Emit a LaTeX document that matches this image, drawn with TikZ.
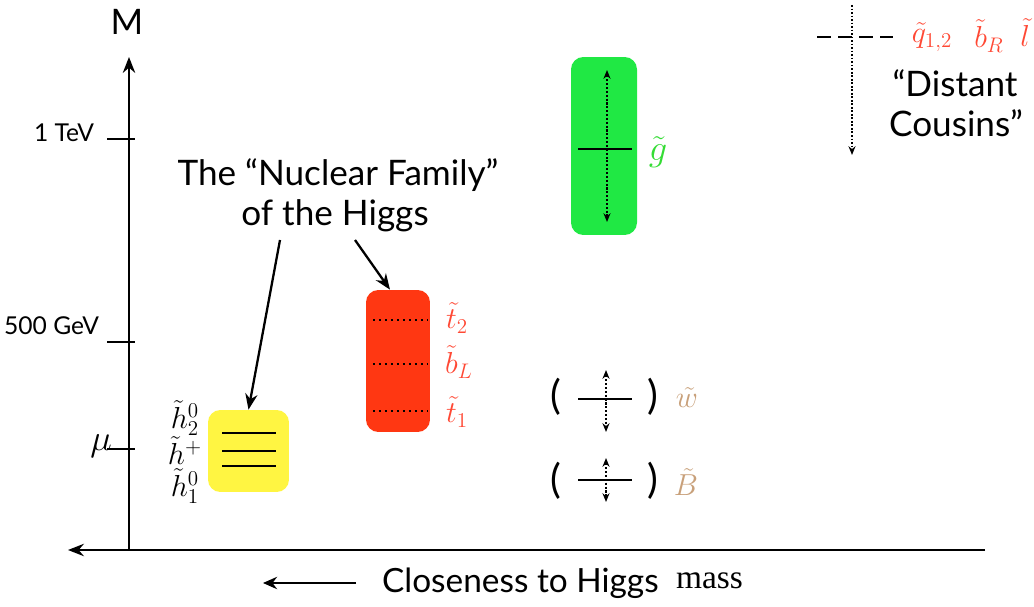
\documentclass[tikz,border=0pt]{standalone}
\usepackage{fontspec}
\setmainfont{Lato}
\newfontfamily\massfont{Liberation Serif}
\usetikzlibrary{arrows.meta}
\definecolor{glgreen}{RGB}{32,232,68}
\definecolor{sqred}{RGB}{255,55,18}
\definecolor{hgyel}{RGB}{255,245,66}
\definecolor{lblred}{RGB}{255,72,52}
\definecolor{lbltan}{RGB}{200,160,122}
\definecolor{lblgrn}{RGB}{52,220,52}
\tikzset{every node/.style={inner sep=1pt},
  famb/.style={rounded corners=7pt,inner sep=0pt},
  lvl/.style={line width=1.4pt},
  dlvl/.style={dotted,line width=1.4pt},
  spread/.style={densely dotted,line width=1.2pt,{Stealth[length=5pt,width=4pt]}-{Stealth[length=5pt,width=4pt]}},
  ptr/.style={line width=1.3pt,-{Stealth[length=9pt,width=7pt]}},
  big/.style={font=\fontsize{20}{24}\selectfont},
  mlbl/.style={font=\fontsize{18}{22}\selectfont},
  paren/.style={font=\fontsize{23}{26}\selectfont},
  tick/.style={font=\fontsize{14}{17}\selectfont}}
\begin{document}
\begin{tikzpicture}[x=.02cm,y=-.02cm]
\useasboundingbox(0,0)rectangle(1034,607);
% axes
\coordinate(o)at(129,550);\coordinate(mtop)at(129,57);
\coordinate(xr)at(985,550);\coordinate(xl)at(68,550);
\draw[line width=1.4pt,-{Stealth[length=9pt,width=7pt]}](o)--(mtop);
\draw[line width=1.4pt,-{Stealth[length=9pt,width=7pt]}](xr)--(xl);
\node[big](m)at(127,22){M};
\draw[line width=1.2pt](107,139)--(135,139);\node[tick,anchor=east](tev)at(96,133){1 TeV};
\draw[line width=1.2pt](107,342)--(135,342);\node[tick,anchor=east](gev)at(101,326){500 GeV};
\draw[line width=1.2pt](107,449)--(135,449);\node[anchor=east,font=\fontsize{20}{22}\selectfont](mu)at(114,446){$\mu$};
% gluino
\node[famb,fill=glgreen,minimum width=1.32cm,minimum height=3.56cm](gl)at(604,146){};
\coordinate(gt)at(607,70);\coordinate(gb)at(607,222);
\draw[spread](gt)--(gb);
\draw[lvl](578,149)--(632,149);
\node[text=lblgrn,font=\fontsize{21}{24}\selectfont](glb)at(658,152){$\tilde g$};
% stops
\node[famb,fill=sqred,minimum width=1.28cm,minimum height=2.84cm](rd)at(398,361){};
\foreach \y in {320,364,411}\draw[dlvl](373,\y)--(428,\y);
\node[text=lblred,mlbl](t2)at(457,318){$\tilde t_2$};
\node[text=lblred,mlbl](bl)at(459,362){$\tilde b_L$};
\node[text=lblred,mlbl](t1)at(457,412){$\tilde t_1$};
% higgsinos
\node[famb,fill=hgyel,minimum width=1.62cm,minimum height=1.64cm](yl)at(248.5,451){};
\foreach \y in {433,451,466}\draw[lvl](222,\y)--(276,\y);
\node[mlbl](h2)at(185,418){$\tilde h_2^0$};
\node[mlbl](hp)at(185,451){$\tilde h^+$};
\node[mlbl](h1)at(185,486){$\tilde h_1^0$};
% nuclear family
\node[big](nf)at(338,175){The “Nuclear Family”};
\node[big](oh)at(335,216){of the Higgs};
\coordinate(pa)at(280,240);\coordinate(pb)at(355,240);
\draw[ptr](pa)--(yl.north);
\draw[ptr](pb)--([xshift=-.16cm]rd.north);
% wino, bino
\node[paren](wl)at(556,397){(};\node[paren](wr)at(653,397){)};
\draw[lvl](578,399)--(632,399);
\coordinate(wt)at(606,370);\coordinate(wb)at(606,432);\draw[spread](wt)--(wb);
\node[text=lbltan,font=\fontsize{16}{18}\selectfont](wn)at(687,398){$\tilde w$};
\node[paren](bl1)at(556,481){(};\node[paren](br1)at(653,481){)};
\draw[lvl](578,480)--(632,480);
\coordinate(bt)at(606,458);\coordinate(bb)at(606,502);\draw[spread](bt)--(bb);
\node[text=lbltan,font=\fontsize{16}{18}\selectfont](bn)at(686,482){$\tilde B$};
% distant cousins
\draw[line width=1.6pt,dash pattern=on 8pt off 4pt](817,37)--(893,37);
\coordinate(dt)at(852,5);\coordinate(db)at(852,155);
\draw[densely dotted,line width=1pt,-{Stealth[length=5pt,width=4pt]}](dt)--(db);
\node[text=lblred,mlbl](q12)at(932,37){$\tilde q_{1,2}$};
\node[text=lblred,mlbl](br)at(989,36){$\tilde b_R$};
\node[text=lblred,mlbl](sl)at(1025,33){$\tilde l$};
\node[big](dc1)at(955,83){“Distant};
\node[big](dc2)at(956,123){Cousins”};
% bottom label
\coordinate(ar)at(356,583);\coordinate(al)at(263,583);
\draw[line width=1.4pt,-{Stealth[length=8pt,width=7pt]}](ar)--(al);
\node[anchor=west,font=\fontsize{19}{22}\selectfont](cl)at(380,583){Closeness to Higgs};
\node[anchor=west,font=\massfont\fontsize{19}{22}\selectfont](ms)at(674,581){mass};
\end{tikzpicture}
\end{document}
